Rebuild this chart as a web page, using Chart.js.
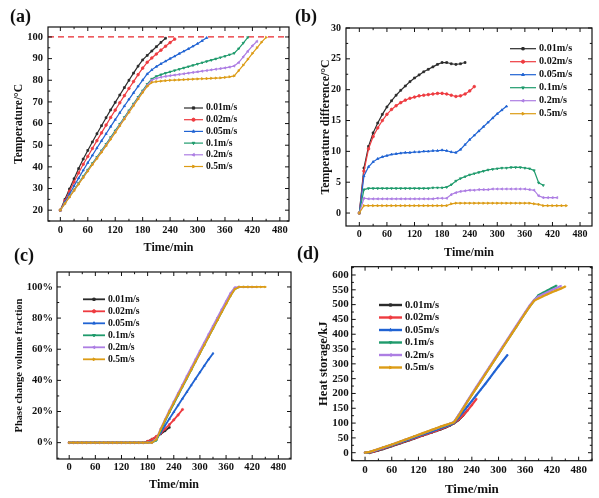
<!DOCTYPE html>
<html>
<head>
<meta charset="utf-8">
<script src="https://cdn.jsdelivr.net/npm/chart.js@4/dist/chart.umd.min.js"></script>
<style>
  body { margin: 0; background: #fff; }
  #wrap { position: relative; width: 599px; height: 498px; overflow: hidden; background: #fff; }
  #wrap canvas { position: absolute; }
  .tag { position: absolute; font: bold 18px "Liberation Serif", "Times New Roman", serif; line-height: 18px; color: #111; }
</style>
</head>
<body>
<div id="wrap">
  <canvas id="ca" width="300" height="262" style="left:0;top:0;width:300px;height:262px"></canvas>
  <canvas id="cb" width="300" height="262" style="left:299px;top:0;width:300px;height:262px"></canvas>
  <canvas id="cc" width="300" height="243" style="left:0;top:255px;width:300px;height:243px"></canvas>
  <canvas id="cd" width="300" height="243" style="left:299px;top:255px;width:300px;height:243px"></canvas>
  <div class="tag" style="left:10px;top:7px">(a)</div>
  <div class="tag" style="left:295px;top:7px">(b)</div>
  <div class="tag" style="left:14px;top:246px">(c)</div>
  <div class="tag" style="left:297px;top:244px">(d)</div>
</div>
<script>
// sample times (min), each series uses the first n of them
const minutes = [0,10,20,30,40,50,60,70,80,90,100,110,120,130,140,150,160,170,180,190,
  200,210,220,230,240,250,260,270,280,290,300,310,320,330,340,350,360,370,380,390,
  400,410,420,430,440,450];

const speeds = ['0.01m/s', '0.02m/s', '0.05m/s', '0.1m/s', '0.2m/s', '0.5m/s'];

const timeTicks = [0, 60, 120, 180, 240, 300, 360, 420, 480];
const tempTicks = [20, 30, 40, 50, 60, 70, 80, 90, 100];
const diffTicks = [0, 5, 10, 15, 20, 25, 30];
const fractionTicks = [0, 20, 40, 60, 80, 100];
const heatTicks = [0, 50, 100, 150, 200, 250, 300, 350, 400, 450, 500, 550, 600];

const limitTemp = 100;

// (a) temperature, degC
const tempA001 = [20,25,29.8,34.5,39.2,43.6,47.6,51.5,55.3,59,62.7,66.3,69.8,73.2,76.6,80,83.3,86.5,89.4,91.5,93.5,95.5,97.5,99.4];
const tempA002 = [20,24.3,28.7,33,37.2,41.2,44.8,48.5,52.1,55.7,59.3,62.8,66.2,69.6,72.9,76.2,79.4,82.6,85.6,88.3,90.3,92.1,93.9,95.7,97.4,99];
const tempA005 = [20,23.8,27.5,31.2,34.8,38.4,41.9,45.3,48.7,52,55.3,58.6,61.8,65,68.1,71.2,74.2,77.2,80.1,82.9,84.8,86.3,87.6,88.8,90,91.1,92.3,93.4,94.5,95.7,96.9,98.2,99.6];
const tempA01 = [20,23.2,26.3,29.4,32.5,35.6,38.6,41.6,44.5,47.5,50.5,53.6,56.7,59.8,62.9,66,69.1,72.2,75.2,78.2,80.6,81.8,82.6,83.3,83.9,84.5,85.1,85.7,86.3,86.9,87.5,88.1,88.7,89.3,89.9,90.5,91.1,91.8,92.5,94.6,97.2,99.8];
const tempA02 = [20,23.1,26.2,29.2,32.2,35.2,38.2,41.2,44.1,47,50,53.1,56.2,59.3,62.4,65.5,68.6,71.7,74.7,77.7,80,80.9,81.4,81.8,82.1,82.4,82.7,83,83.3,83.6,83.9,84.2,84.5,84.8,85.1,85.4,85.7,86.1,86.6,88.2,90.8,93.4,95.9,98];
const tempA05 = [20,23,26,29,32,35,38,41,43.8,46.7,49.7,52.7,55.8,58.9,62,65.1,68.2,71.3,74.3,77.2,79,79.4,79.6,79.8,80,80.1,80.2,80.3,80.4,80.5,80.6,80.7,80.8,80.9,81,81.1,81.3,81.6,82,84.4,87,89.7,92.4,95,97.6,99.8];

// (b) temperature difference, degC
const diffB001 = [0,7.3,10.8,13,14.6,16,17.2,18.2,19.1,19.9,20.6,21.3,21.9,22.4,22.9,23.3,23.7,24.1,24.4,24.4,24.2,24.1,24.2,24.4];
const diffB002 = [0,6.8,10.4,12.4,13.8,15,16,16.8,17.4,17.9,18.3,18.6,18.8,19,19.1,19.2,19.3,19.4,19.4,19.3,19.1,18.9,19,19.3,19.8,20.5];
const diffB005 = [0,6,7.5,8.3,8.8,9.1,9.3,9.5,9.6,9.7,9.8,9.8,9.9,9.9,10,10,10.1,10.1,10.2,10.1,9.9,9.8,10.3,11.1,11.9,12.6,13.3,14,14.7,15.4,16.1,16.7,17.3];
const diffB01 = [0,3.8,4,4,4,4,4,4,4,4,4,4,4,4,4,4,4.1,4.1,4.1,4.2,4.6,5.2,5.6,5.9,6.2,6.4,6.6,6.8,7,7.1,7.2,7.3,7.3,7.4,7.4,7.4,7.3,7.2,6.9,4.9,4.5];
const diffB02 = [0,2.4,2.3,2.3,2.3,2.3,2.3,2.3,2.3,2.3,2.3,2.3,2.3,2.3,2.3,2.3,2.3,2.4,2.4,2.4,3,3.3,3.5,3.6,3.7,3.7,3.8,3.8,3.8,3.9,3.9,3.9,3.9,3.9,3.9,3.9,3.9,3.8,3.7,2.8,2.5,2.5,2.5,2.5];
const diffB05 = [0,1.2,1.2,1.2,1.2,1.2,1.2,1.2,1.2,1.2,1.2,1.2,1.2,1.2,1.2,1.2,1.2,1.2,1.2,1.2,1.5,1.6,1.6,1.6,1.6,1.6,1.6,1.6,1.6,1.6,1.6,1.6,1.6,1.6,1.6,1.6,1.6,1.6,1.5,1.4,1.2,1.2,1.2,1.2,1.2,1.2];

// (c) phase change volume fraction, %
const fracC001 = [0,0,0,0,0,0,0,0,0,0,0,0,0,0,0,0,0,0,0.8,2.2,3.8,5.6,7.6,9.8];
const fracC002 = [0,0,0,0,0,0,0,0,0,0,0,0,0,0,0,0,0,0,0.8,2.2,4,6,8.8,11.6,14.6,17.8,21.3];
const fracC005 = [0,0,0,0,0,0,0,0,0,0,0,0,0,0,0,0,0,0,0,0.5,2,6.5,11,15.3,19.7,24,28.3,32.6,36.8,41,45.2,49.4,53.5,57.3];
const fracC01 = [0,0,0,0,0,0,0,0,0,0,0,0,0,0,0,0,0,0,0,0,1.5,7.8,13.8,19.4,25,30.4,35.8,41.2,46.6,52,57.4,62.7,68,73.3,78.6,83.9,89.1,94.3,98.6,100,100,100];
const fracC02 = [0,0,0,0,0,0,0,0,0,0,0,0,0,0,0,0,0,0,0,0,2.5,9,15,20.8,26.4,31.9,37.3,42.8,48.2,53.6,59,64.3,69.7,75,80.3,85.6,90.8,96,99.6,100,100,100,100,100];
const fracC05 = [0,0,0,0,0,0,0,0,0,0,0,0,0,0,0,0,0,0,0,0,2,8.5,14.4,20,25.5,30.8,36.1,41.4,46.7,52,57.3,62.6,67.9,73.2,78.5,83.8,89,94.2,98.5,100,100,100,100,100,100,100];

// (d) heat storage, kJ
const heatD001 = [0,-1,3,7.5,12,17,22,27,32,37,42,47,53,58,63,68,73,78.5,84,91,99,110,125,143];
const heatD002 = [0,0,4,9,13.5,18.5,23.5,28.5,33.5,38.5,43.5,48.5,54,59,64,69,74.5,80,86,92.5,100,112,126,142,161,181];
const heatD005 = [0,1,5.5,10.5,15.5,20.5,25.5,30.5,35.5,40.5,45.5,51,56.5,62,67,72,77.5,83,88.5,94,101,118,137,156,175,194,213,232,252,272,292,311,330];
const heatD01 = [0,2,6.5,11.5,16.5,21.5,26.5,31.5,37,42.5,48,53.5,59,64.5,70,75.5,81,86.5,91.5,96.5,103,125,149,173,196,219,242,265,288,311,334,357,380,403,426,449,472,494,514,532,540,548,556,564];
const heatD02 = [0,2.5,7,12,17,22,27,32.5,38,43.5,49,54.5,60,65.5,71,76.5,82,87.5,92.5,97.5,104,127,151,175,199,222,245,268,291,314,337,360,383,406,429,452,475,497,516,528,535,542,549,556,563];
const heatD05 = [0,3,7.5,12.5,17.5,22.5,27.5,33,38.5,44,49.5,55,60.5,66,71.5,77,82.5,88,93,98,103,124,148,172,195,218,241,264,287,310,333,356,379,402,425,448,471,493,513,521,528,535,542,548,554,561];

const FONT = '"Liberation Serif", "Times New Roman", serif';
const colors = ['#2b2b2b', '#ee3b40', '#2063d3', '#1f9b6c', '#ad7ee3', '#dc9c16'];
const markers = [
  { style: 'rect', rot: 0 },
  { style: 'circle', rot: 0 },
  { style: 'triangle', rot: 0 },
  { style: 'triangle', rot: 180 },
  { style: 'triangle', rot: 270 },
  { style: 'triangle', rot: 90 }
];

function pairs(values) {
  return values.map((v, i) => ({ x: minutes[i], y: v }));
}

// frame with inward major/minor ticks on all four sides
const frameTicks = {
  id: 'frameTicks',
  afterDraw(chart) {
    const { ctx, chartArea: a, scales } = chart;
    ctx.save();
    ctx.strokeStyle = '#111';
    ctx.lineWidth = 1.2;
    ctx.strokeRect(a.left, a.top, a.right - a.left, a.bottom - a.top);
    const drawAxis = (scale, horiz) => {
      const vals = scale.ticks.map(t => t.value);
      const marks = vals.map(v => [v, 4]);
      for (let i = 0; i < vals.length - 1; i++) marks.push([(vals[i] + vals[i + 1]) / 2, 2.2]);
      const step = vals[1] - vals[0];
      marks.push([vals[0] - step / 2, 2.2], [vals[vals.length - 1] + step / 2, 2.2]);
      ctx.beginPath();
      marks.forEach(([v, len]) => {
        if (v < scale.min || v > scale.max) return;
        const p = scale.getPixelForValue(v);
        if (horiz) {
          ctx.moveTo(p, a.bottom); ctx.lineTo(p, a.bottom - len);
          ctx.moveTo(p, a.top); ctx.lineTo(p, a.top + len);
        } else {
          ctx.moveTo(a.left, p); ctx.lineTo(a.left + len, p);
          ctx.moveTo(a.right, p); ctx.lineTo(a.right - len, p);
        }
      });
      ctx.lineWidth = 1;
      ctx.stroke();
    };
    drawAxis(scales.x, true);
    drawAxis(scales.y, false);
    ctx.restore();
  }
};

// legend drawn inside the plot
const innerLegend = {
  id: 'innerLegend',
  afterDraw(chart, args, o) {
    const { ctx } = chart;
    ctx.save();
    ctx.font = 'bold ' + o.size + 'px ' + FONT;
    ctx.textBaseline = 'middle';
    ctx.fillStyle = '#111';
    chart.data.datasets.forEach((ds, i) => {
      const y = o.y + i * o.gap;
      ctx.strokeStyle = ds.borderColor;
      ctx.lineWidth = o.lineWidth;
      ctx.beginPath();
      ctx.moveTo(o.x, y);
      ctx.lineTo(o.x + o.len, y);
      ctx.stroke();
      if (Chart.helpers && Chart.helpers.drawPoint) {
        ctx.fillStyle = ds.borderColor;
        ctx.lineWidth = 1;
        Chart.helpers.drawPoint(ctx, { pointStyle: ds.pointStyle, rotation: ds.pointRotation, radius: 1.6, borderWidth: 1 }, o.x + o.len / 2, y);
      }
      ctx.fillStyle = '#111';
      ctx.fillText(ds.label, o.x + o.len + 3, y);
    });
    ctx.restore();
  }
};

const limitLine = {
  id: 'limitLine',
  beforeDatasetsDraw(chart, args, o) {
    if (o.value === undefined) return;
    const { ctx, chartArea: a, scales } = chart;
    const y = scales.y.getPixelForValue(o.value);
    ctx.save();
    ctx.strokeStyle = '#e8262c';
    ctx.lineWidth = 1.3;
    ctx.setLineDash([6, 4]);
    ctx.beginPath();
    ctx.moveTo(a.left, y);
    ctx.lineTo(a.right, y);
    ctx.stroke();
    ctx.restore();
  }
};

function makePanel(id, p) {
  const datasets = p.series.map((vals, i) => ({
    label: speeds[i],
    data: pairs(vals),
    borderColor: colors[i],
    backgroundColor: colors[i],
    borderWidth: p.lineWidth,
    pointStyle: markers[i].style,
    pointRotation: markers[i].rot,
    pointRadius: p.pointRadius,
    pointBorderWidth: 0.8,
    tension: 0,
    order: 6 - i
  }));
  const tickFont = { family: FONT, size: p.tickSize, weight: 'bold' };
  new Chart(document.getElementById(id), {
    type: 'line',
    data: { datasets },
    options: {
      responsive: false,
      animation: false,
      events: [],
      layout: { padding: { left: 0, top: p.padTop, right: p.padRight, bottom: 0 } },
      plugins: {
        legend: { display: false },
        tooltip: { enabled: false },
        innerLegend: p.legend,
        limitLine: { value: p.limit }
      },
      scales: {
        x: {
          type: 'linear',
          min: p.xMin, max: p.xMax,
          afterBuildTicks: s => { s.ticks = timeTicks.map(v => ({ value: v })); },
          afterFit: s => { s.height = p.xAxisH; },
          grid: { display: false, drawTicks: false },
          border: { display: false },
          ticks: { font: tickFont, color: '#111', padding: p.xTickPad, maxRotation: 0, autoSkip: false },
          title: { display: true, text: 'Time/min', color: '#111',
            font: { family: FONT, size: p.xTitleSize, weight: 'bold' }, padding: { top: 0, bottom: p.xTitlePad } }
        },
        y: {
          type: 'linear',
          min: p.yMin, max: p.yMax,
          afterBuildTicks: s => { s.ticks = p.yTicks.map(v => ({ value: v })); },
          afterFit: s => { s.width = p.yAxisW; },
          grid: { display: false, drawTicks: false },
          border: { display: false },
          ticks: { font: tickFont, color: '#111', padding: p.yTickPad, autoSkip: false,
            callback: v => v + (p.suffix || '') },
          title: { display: true, text: p.yTitle, color: '#111',
            font: { family: FONT, size: p.yTitleSize, weight: 'bold' }, padding: { top: p.yTitlePad, bottom: 0 } }
        }
      }
    },
    plugins: [limitLine, frameTicks, innerLegend]
  });
}

makePanel('ca', {
  series: [tempA001, tempA002, tempA005, tempA01, tempA02, tempA05],
  yTicks: tempTicks, yMin: 15, yMax: 104.6, xMin: -27, xMax: 500,
  padTop: 27, padRight: 11, yAxisW: 48, xAxisH: 41,
  tickSize: 10.5, xTickPad: 2.7, yTickPad: 5,
  xTitleSize: 12, xTitlePad: 7, yTitle: 'Temperature/\u00B0C', yTitleSize: 11.5, yTitlePad: 12,
  lineWidth: 1.2, pointRadius: 1.3, limit: limitTemp,
  legend: { x: 184, y: 108, gap: 11.7, len: 19, size: 9.6, lineWidth: 1.2 }
});

makePanel('cb', {
  series: [diffB001, diffB002, diffB005, diffB01, diffB02, diffB05],
  yTicks: diffTicks, yMin: -2.1, yMax: 30, xMin: -29, xMax: 506,
  padTop: 28, padRight: 7, yAxisW: 47, xAxisH: 36,
  tickSize: 10, xTickPad: 2.9, yTickPad: 5,
  xTitleSize: 12, xTitlePad: 2, yTitle: 'Temperature difference/\u00B0C', yTitleSize: 11.8, yTitlePad: 19.5,
  lineWidth: 1.2, pointRadius: 1.3,
  legend: { x: 211, y: 48.7, gap: 13, len: 26, size: 10.2, lineWidth: 1.2 }
});

makePanel('cc', {
  series: [fracC001, fracC002, fracC005, fracC01, fracC02, fracC05],
  yTicks: fractionTicks, yMin: -10.5, yMax: 109.6, xMin: -28, xMax: 509, suffix: '%',
  padTop: 17, padRight: 9, yAxisW: 57, xAxisH: 39,
  tickSize: 10.5, xTickPad: 2, yTickPad: 4,
  xTitleSize: 12, xTitlePad: 5.5, yTitle: 'Phase change volume fraction', yTitleSize: 10.5, yTitlePad: 13,
  lineWidth: 1.8, pointRadius: 1.1,
  legend: { x: 83, y: 44.3, gap: 12, len: 22, size: 9.7, lineWidth: 1.8 }
});

makePanel('cd', {
  series: [heatD001, heatD002, heatD005, heatD01, heatD02, heatD05],
  yTicks: heatTicks, yMin: -27, yMax: 628, xMin: -30, xMax: 510,
  padTop: 11.7, padRight: 7, yAxisW: 52.7, xAxisH: 37.3,
  tickSize: 11, xTickPad: 2.7, yTickPad: 3,
  xTitleSize: 13, xTitlePad: 1, yTitle: 'Heat storage/kJ', yTitleSize: 12.5, yTitlePad: 17,
  lineWidth: 2.2, pointRadius: 0.9,
  legend: { x: 80, y: 50, gap: 12.5, len: 23, size: 10.5, lineWidth: 2.4 }
});
</script>
</body>
</html>
